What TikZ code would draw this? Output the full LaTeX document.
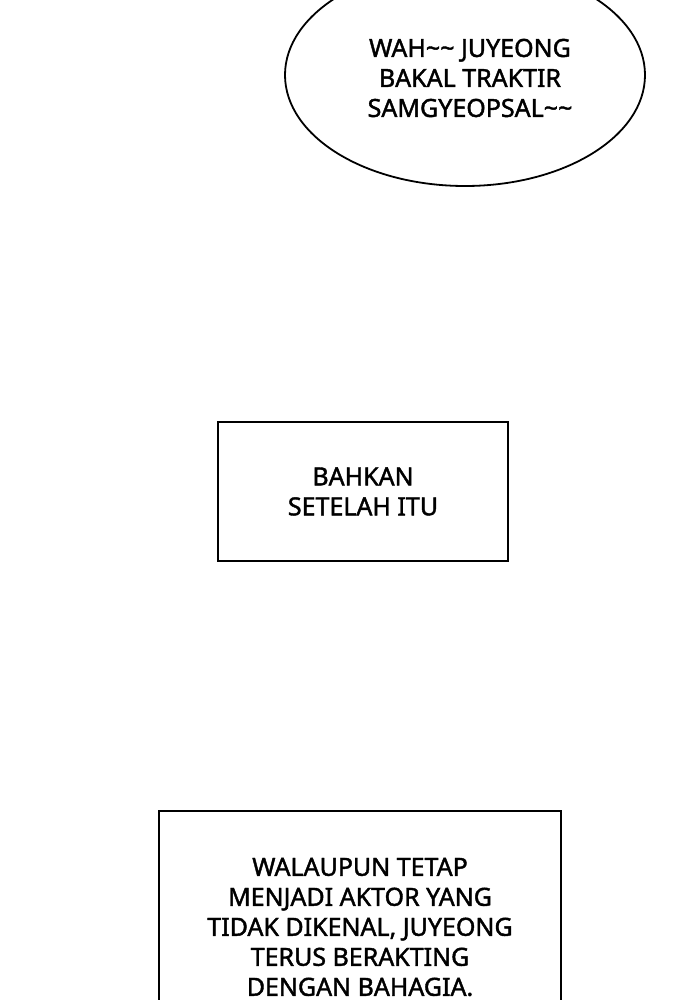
\documentclass[tikz,border=0pt]{standalone}
\usepackage{fontspec}
\newfontfamily\capfont{Noto Sans}[FakeBold=1.6]
\usetikzlibrary{shapes.geometric}

\begin{document}
\begin{tikzpicture}[
    x=1pt, y=-1pt,
    line width=1.8pt,
    txt/.style={font=\capfont\fontsize{25}{30}\selectfont, align=center, text=black},
    bubble/.style={ellipse, draw=black, fill=white, inner sep=0pt,
      minimum width=360pt, minimum height=222pt},
    caption/.style={rectangle, draw=black, fill=white, inner sep=0pt},
  ]
  \useasboundingbox (0,0) rectangle (700,1000);
  \clip (0,0) rectangle (700,1000);

  \node[bubble] (wah) at (465,75) {};
  \node[txt] (wahtext) at (470,78)
    {WAH\char`\~\char`\~{} JUYEONG\\BAKAL TRAKTIR\\SAMGYEOPSAL\char`\~\char`\~};

  \node[caption, txt, minimum width=290pt, minimum height=139pt] (bahkan) at (363,491.5)
    {BAHKAN\\SETELAH ITU};

  \node[caption, txt, minimum width=402pt, minimum height=232pt] (walaupun) at (360,927)
    {WALAUPUN TETAP\\MENJADI AKTOR YANG\\TIDAK DIKENAL, JUYEONG\\TERUS BERAKTING\\DENGAN BAHAGIA.};
\end{tikzpicture}
\end{document}
